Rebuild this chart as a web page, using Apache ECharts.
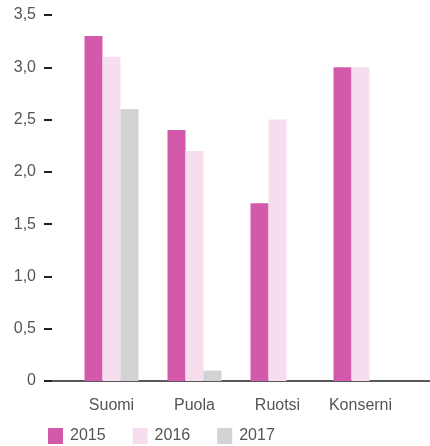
<!DOCTYPE html>
<html>
<head>
<meta charset="utf-8">
<script src="https://cdn.jsdelivr.net/npm/echarts@6/dist/echarts.min.js"></script>
<style>
  html, body { margin: 0; padding: 0; background: #fff; }
  #chart { width: 430px; height: 446px; }
</style>
</head>
<body>
<div id="chart"></div>
<script>
// data
const categories = ['Suomi', 'Puola', 'Ruotsi', 'Konserni']
const years = ['2015', '2016', '2017']
const values2015 = [3.3, 2.4, 1.7, 3.0]
const values2016 = [3.1, 2.2, 2.5, 3.0]
const values2017 = [2.6, 0.1, null, null]
const yTicks = [0, 0.5, 1.0, 1.5, 2.0, 2.5, 3.0, 3.5]

const colors = ['#d35aaa', '#f7deef', '#d2d3d5']
const font = 'Liberation Sans'
const textColor = '#555'
const fontSize = 16

function fmt(v) {
  return v === 0 ? '0' : v.toFixed(1).replace('.', ',')
}

const chart = echarts.init(document.getElementById('chart'))
const option = {
  animation: false,
  color: colors,
  textStyle: { fontFamily: font },
  legend: {
    data: years,
    left: 48,
    top: 428,
    padding: 0,
    itemWidth: 15,
    itemHeight: 16,
    itemGap: 27,
    icon: 'rect',
    textStyle: { fontSize: fontSize, color: textColor, fontFamily: font, padding: [0, 0, 0, 2] }
  },
  grid: [
    // outer grid: y ticks and baseline
    { left: 52, right: 0, top: 15, bottom: 65 },
    // inner grid: bars
    { left: 70, right: 28, top: 15, bottom: 65 }
  ],
  xAxis: [
    {
      gridIndex: 0,
      type: 'value',
      min: 0,
      max: 1,
      axisLine: { show: true, onZero: false, lineStyle: { color: '#222', width: 1.5 } },
      axisTick: { show: false },
      axisLabel: { show: false },
      splitLine: { show: false }
    },
    {
      gridIndex: 1,
      type: 'category',
      data: categories,
      axisLine: { show: false },
      axisTick: { show: false },
      axisLabel: {
        margin: 17,
        fontSize: fontSize,
        color: textColor,
        fontFamily: font
      }
    }
  ],
  yAxis: [
    {
      gridIndex: 0,
      type: 'value',
      min: 0,
      max: 3.5,
      interval: 0.5,
      axisLine: { show: false },
      axisTick: { show: true, length: 8, lineStyle: { color: '#222', width: 2 } },
      axisLabel: {
        margin: 16,
        fontSize: fontSize,
        color: textColor,
        fontFamily: font,
        formatter: function (v) { return fmt(v) },
        customValues: yTicks
      },
      splitLine: { show: false }
    },
    {
      gridIndex: 1,
      type: 'value',
      min: 0,
      max: 3.5,
      interval: 0.5,
      show: false,
      splitLine: { show: false }
    }
  ],
  series: [
    { name: years[0], type: 'bar', xAxisIndex: 1, yAxisIndex: 1, barWidth: 18, barGap: '0%', data: values2015 },
    { name: years[1], type: 'bar', xAxisIndex: 1, yAxisIndex: 1, barWidth: 18, barGap: '0%', data: values2016 },
    { name: years[2], type: 'bar', xAxisIndex: 1, yAxisIndex: 1, barWidth: 18, barGap: '0%', data: values2017 }
  ]
}
chart.setOption(option)
</script>
</body>
</html>
